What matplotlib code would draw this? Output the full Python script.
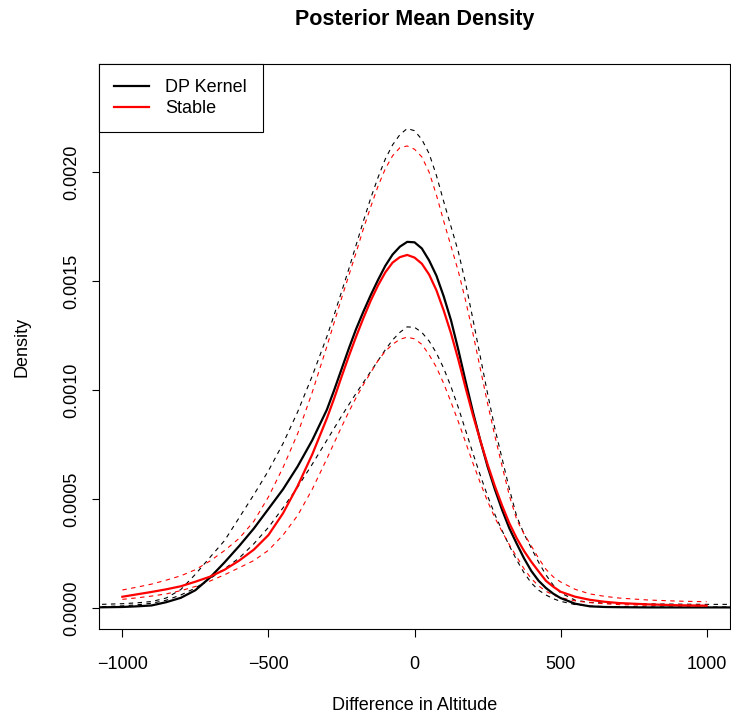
import numpy as np
import matplotlib
matplotlib.use("Agg")
import matplotlib.pyplot as plt

plt.rcParams['font.family'] = ['Liberation Sans', 'DejaVu Sans']

# x grid (Difference in Altitude); densities below are in units of 1e-4
x = [-1000, -950, -900, -850, -800, -750, -700, -650, -600, -550, -500, -450, -400, -350, -300,
     -275, -250, -225, -200, -175, -150, -125, -100, -75, -50, -25, 0, 25, 50, 75, 100, 125,
     150, 175, 200, 225, 250, 275, 300, 325, 350, 375, 400, 425, 450, 475, 500,
     550, 600, 650, 700, 800, 900, 1000]

# DP kernel curves run past the plot box on both sides
x_dp = [-1100] + x + [1100]
dp_mean = [0.03,
           0.05, 0.08, 0.12, 0.27, 0.47, 0.82, 1.40, 2.10, 2.85, 3.65, 4.55, 5.45, 6.50, 7.70, 9.10,
           10.00, 10.95, 11.90, 12.80, 13.60, 14.35, 15.05, 15.70, 16.22, 16.58, 16.80, 16.78, 16.50,
           15.95, 15.25, 14.30, 13.20, 11.85, 10.40, 9.00, 7.70, 6.50, 5.45, 4.50, 3.65, 2.95, 2.28,
           1.70, 1.25, 0.92, 0.66, 0.46, 0.20, 0.08, 0.05, 0.04, 0.03, 0.03, 0.03,
           0.03]
dp_upper = [0.16,
            0.20, 0.24, 0.30, 0.46, 0.85, 1.55, 2.33, 3.10, 4.15, 5.20, 6.30, 7.55, 9.00, 10.65, 12.45,
            13.45, 14.50, 15.55, 16.65, 17.75, 18.80, 19.75, 20.60, 21.25, 21.72, 22.00, 21.90, 21.50,
            20.85, 19.85, 18.65, 17.50, 16.35, 14.90, 13.25, 11.55, 9.85, 8.25, 6.85, 5.45, 4.20, 3.40,
            2.75, 2.10, 1.52, 1.05, 0.70, 0.36, 0.26, 0.23, 0.21, 0.19, 0.18, 0.17,
            0.17]
dp_lower = [0.05,
            0.10, 0.15, 0.22, 0.36, 0.60, 0.92, 1.35, 1.80, 2.30, 2.95, 3.70, 4.60, 5.55, 6.60, 7.70,
            8.25, 8.80, 9.33, 9.85, 10.35, 10.85, 11.35, 11.85, 12.30, 12.65, 12.90, 12.88, 12.65,
            12.25, 11.70, 11.00, 10.15, 9.20, 8.15, 7.10, 6.10, 5.15, 4.30, 3.55, 2.85, 2.20, 1.62,
            1.15, 0.82, 0.60, 0.43, 0.31, 0.16, 0.09, 0.07, 0.06, 0.05, 0.05, 0.05,
            0.05]

stable_mean = [0.52, 0.63, 0.74, 0.86, 1.00, 1.21, 1.44, 1.76, 2.18, 2.68, 3.35, 4.35, 5.60, 7.05, 8.70,
               9.62, 10.60, 11.55, 12.45, 13.30, 14.10, 14.80, 15.40, 15.85, 16.10, 16.20, 16.08, 15.80,
               15.30, 14.58, 13.65, 12.60, 11.40, 10.10, 8.85, 7.70, 6.60, 5.60, 4.70, 3.88, 3.20, 2.62,
               2.12, 1.68, 1.25, 0.98, 0.75, 0.52, 0.38, 0.29, 0.23, 0.17, 0.13, 0.11]
stable_upper = [0.83, 0.96, 1.10, 1.28, 1.48, 1.76, 2.16, 2.64, 3.20, 3.98, 5.10, 6.45, 8.00, 9.90, 12.00,
                13.10, 14.20, 15.25, 16.30, 17.40, 18.40, 19.35, 20.15, 20.75, 21.12, 21.20, 21.05, 20.70,
                20.00, 18.95, 17.75, 16.60, 15.45, 14.10, 12.60, 11.00, 9.40, 7.90, 6.50, 5.15, 4.05, 3.40,
                2.85, 2.28, 1.78, 1.43, 1.20, 0.86, 0.65, 0.54, 0.46, 0.37, 0.32, 0.29]
stable_lower = [0.40, 0.47, 0.55, 0.65, 0.80, 0.99, 1.24, 1.53, 1.85, 2.18, 2.65, 3.35, 4.25, 5.45, 6.85,
                7.58, 8.30, 9.00, 9.65, 10.25, 10.80, 11.35, 11.78, 12.10, 12.33, 12.43, 12.35, 12.10,
                11.62, 11.05, 10.30, 9.45, 8.55, 7.60, 6.65, 5.75, 4.90, 4.15, 3.50, 2.90, 2.35, 1.80,
                1.35, 1.02, 0.77, 0.60, 0.48, 0.33, 0.25, 0.20, 0.16, 0.13, 0.11, 0.09]

scale = 1e-4
xticks = [-1000, -500, 0, 500, 1000]
yticks = [0.0, 0.0005, 0.0010, 0.0015, 0.0020]

W, H = 731, 722
fig = plt.figure(figsize=(W / 100, H / 100), dpi=100)
ax = fig.add_axes([99 / W, 1 - 629 / H, 631 / W, 565 / H])

# dashed bands
ax.plot(x_dp, np.array(dp_upper) * scale, color='black', lw=0.8, dashes=(4, 4))
ax.plot(x_dp, np.array(dp_lower) * scale, color='black', lw=0.8, dashes=(4, 4))
ax.plot(x, np.array(stable_upper) * scale, color='red', lw=0.8, dashes=(4, 4))
ax.plot(x, np.array(stable_lower) * scale, color='red', lw=0.8, dashes=(4, 4))

# posterior means
l1, = ax.plot(x_dp, np.array(dp_mean) * scale, color='black', lw=1.6)
l2, = ax.plot(x, np.array(stable_mean) * scale, color='red', lw=1.6)

ax.set_xlim(-1080, 1080)
ax.set_ylim(-0.000096, 0.002496)
ax.set_xticks(xticks)
ax.set_yticks(yticks)
ax.set_yticklabels(['%.4f' % v for v in yticks])
for s in ax.spines.values():
    s.set_linewidth(0.8)
ax.tick_params(direction='out', length=5.4, width=0.8, labelsize=13)
ax.tick_params(axis='x', pad=14)
ax.tick_params(axis='y', pad=8, labelrotation=90)
for lab in ax.get_yticklabels():
    lab.set_va('center')

leg = ax.legend([l1, l2], ['DP Kernel', 'Stable'], loc='upper left', bbox_to_anchor=(0, 1),
                borderaxespad=0, fontsize=13, fancybox=False, edgecolor='black', framealpha=1,
                handlelength=1.94, handletextpad=0.89, borderpad=0.85, labelspacing=0.2)
leg.get_frame().set_linewidth(0.8)

fig.text(415 / W, 1 - 20 / H, 'Posterior Mean Density', ha='center', va='center',
         fontsize=15.5, fontweight='bold')
fig.text(415 / W, 1 - 705 / H, 'Difference in Altitude', ha='center', va='center', fontsize=13)
fig.text(22 / W, 1 - 346.5 / H, 'Density', ha='center', va='center', rotation=90, fontsize=13)

fig.savefig('out.png', dpi=100)
